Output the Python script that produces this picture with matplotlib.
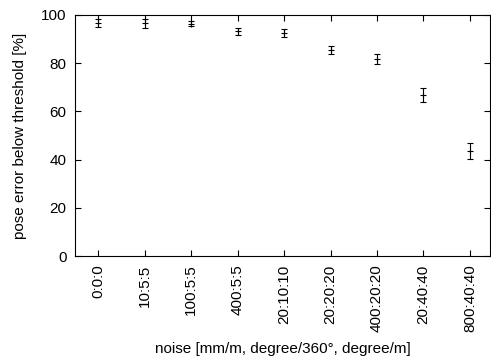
import numpy as np
import matplotlib
matplotlib.use("Agg")
import matplotlib.pyplot as plt

plt.rcParams['font.family'] = ['Liberation Sans', 'DejaVu Sans']
plt.rcParams['font.size'] = 11

# data
noise = ["0:0:0", "10:5:5", "100:5:5", "400:5:5", "20:10:10",
         "20:20:20", "400:20:20", "20:40:40", "800:40:40"]
success = [96.8, 96.6, 96.3, 93.2, 92.5, 85.5, 81.7, 66.9, 43.6]
err = [1.7, 1.8, 1.0, 1.6, 1.5, 1.7, 2.1, 2.9, 3.4]

fig = plt.figure(figsize=(4.91, 3.62), dpi=100)
ax = fig.add_axes([0.1527, 0.2928, 0.845, 0.6658])

x = np.arange(len(noise))
ax.errorbar(x, success, yerr=err, fmt='+', color='black', ms=4,
            mew=0.8, elinewidth=0.8, capsize=2.5, capthick=0.8)

ax.set_xlim(-0.5, 8.43)
ax.set_ylim(0, 100)
ax.set_xticks(x)
ax.set_xticklabels(noise, rotation=90)
ax.set_yticks(np.arange(0, 101, 20))
ax.tick_params(direction='in', top=True, right=True, length=4, width=0.8,
               labelsize=11, pad=6)
for s in ax.spines.values():
    s.set_linewidth(0.8)

ax.set_xlabel("noise [mm/m, degree/360°, degree/m]", fontsize=11, labelpad=7)
ax.set_ylabel("pose error below threshold [%]", fontsize=11, labelpad=10)

fig.savefig("out.png", dpi=100)
